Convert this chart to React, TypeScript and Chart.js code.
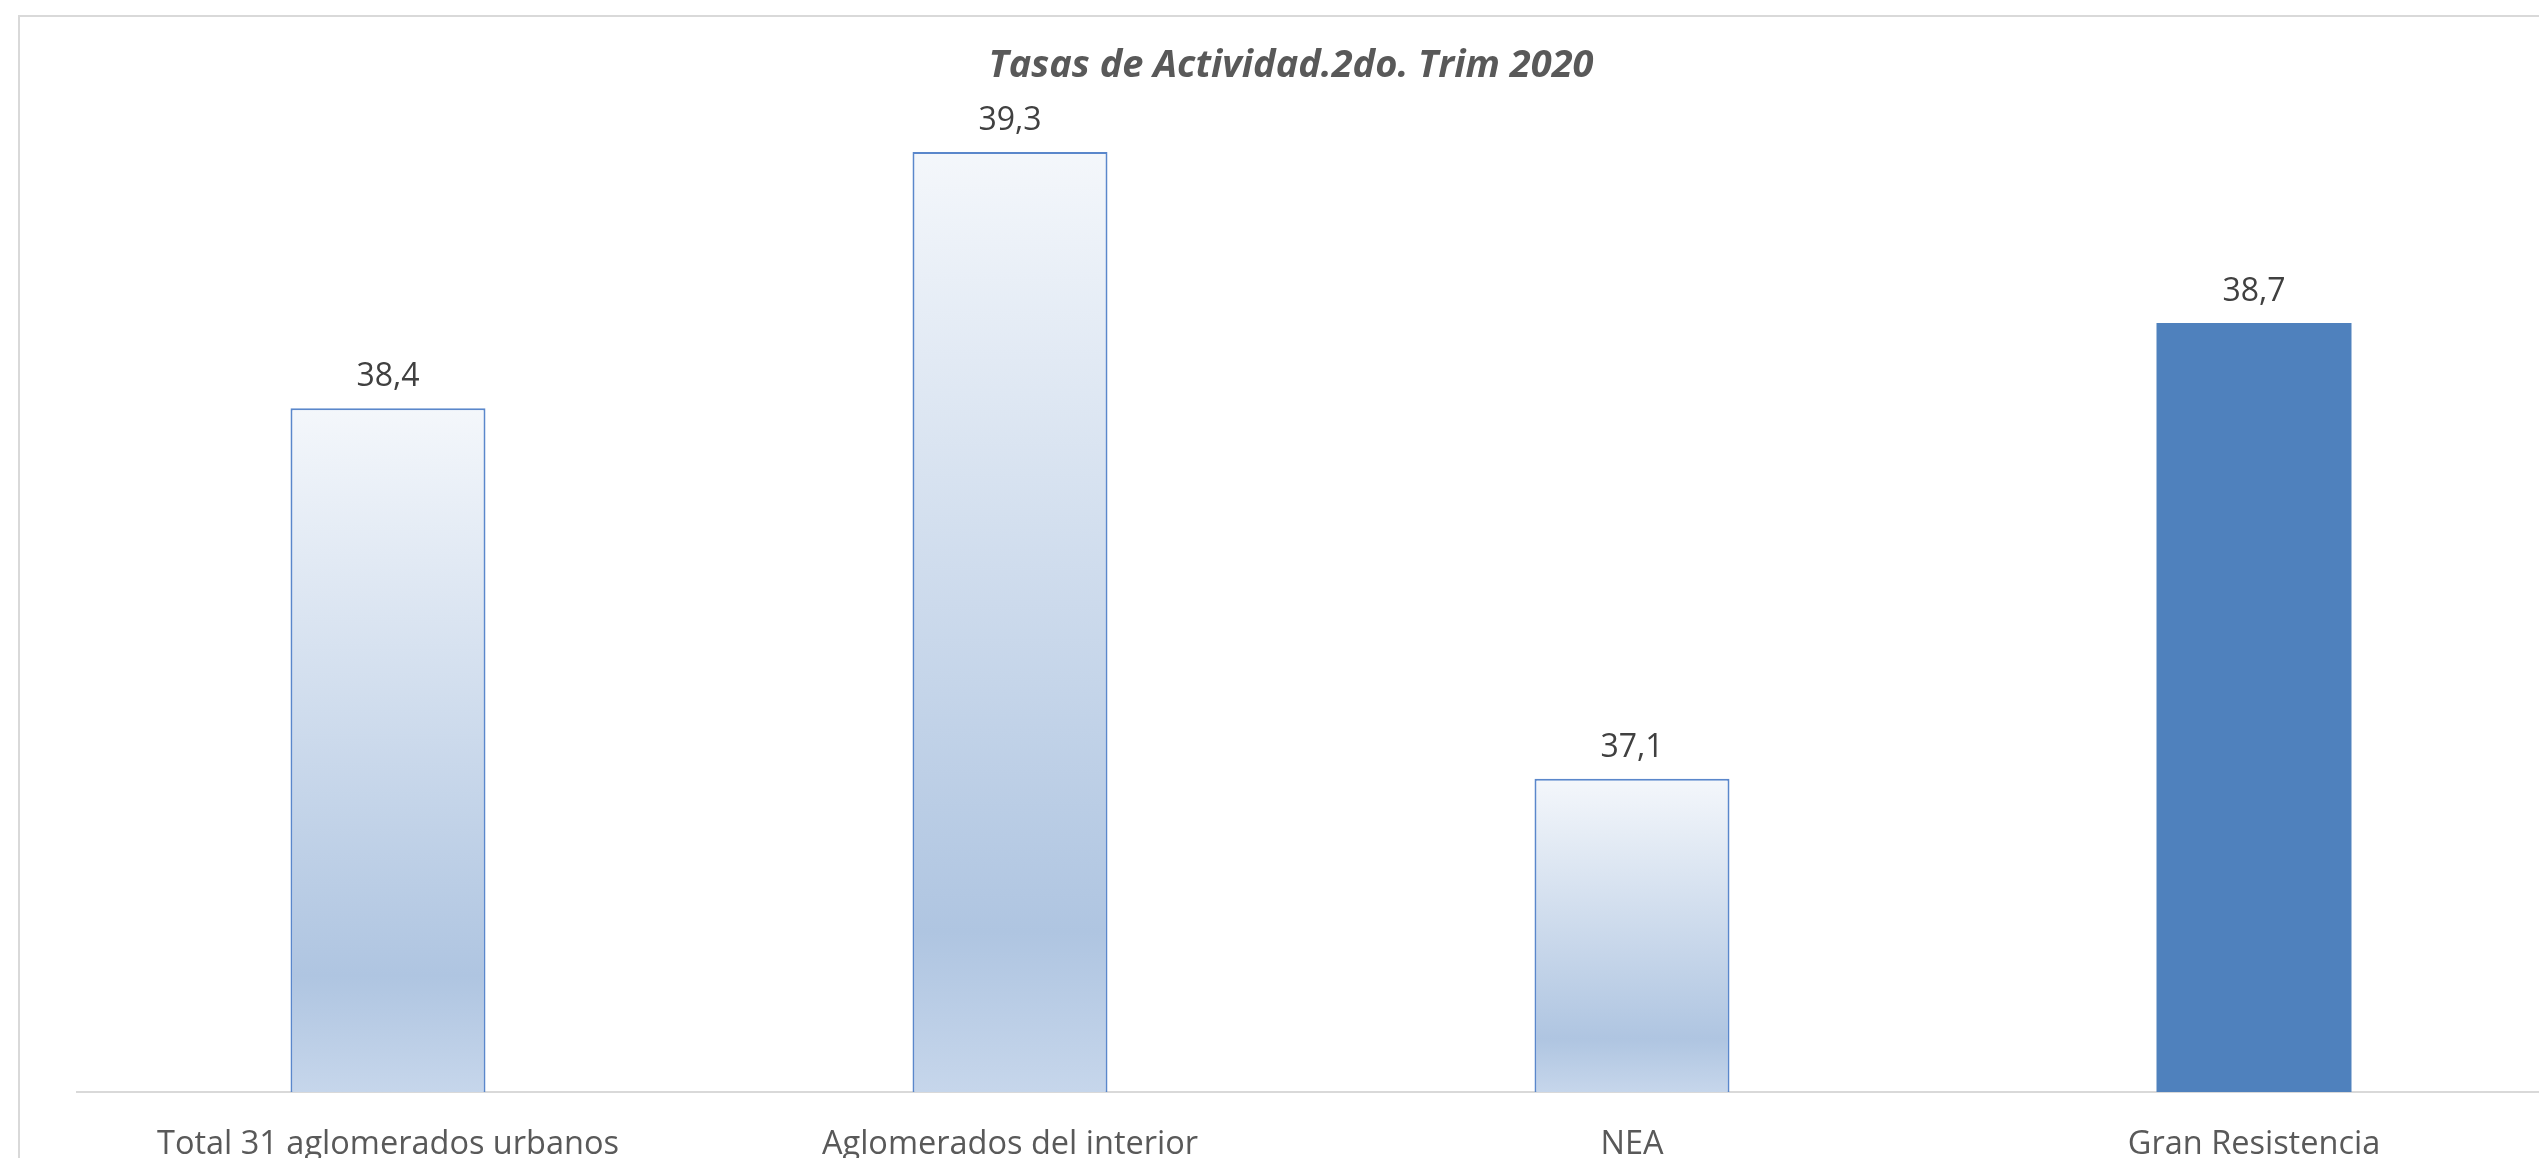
import React, { useEffect, useRef } from "react";
import { Chart, registerables } from "chart.js";

Chart.register(...registerables);

const categories: string[] = [
  "Total 31 aglomerados urbanos",
  "Aglomerados del interior",
  "NEA",
  "Gran Resistencia",
];
const values: number[] = [38.4, 39.3, 37.1, 38.7];
const valueLabels: string[] = ["38,4", "39,3", "37,1", "38,7"];
const titleText = "Tasas de Actividad.2do. Trim 2020";
const Y_MIN = 36;
const Y_MAX = 39.5;

const valueLabelPlugin = {
  id: "valueLabels",
  afterDatasetsDraw(chart: any) {
    const ctx = chart.ctx;
    const meta = chart.getDatasetMeta(0);
    ctx.save();
    ctx.font = '32px "Open Sans"';
    ctx.fillStyle = "#404040";
    ctx.textAlign = "center";
    ctx.textBaseline = "alphabetic";
    meta.data.forEach((bar: any, i: number) => {
      ctx.fillText(valueLabels[i], bar.x, bar.y - 22);
    });
    ctx.restore();
  },
};

const chartTitlePlugin = {
  id: "chartTitle",
  afterDraw(chart: any) {
    const ctx = chart.ctx;
    ctx.save();
    ctx.font = 'italic bold 38px "Open Sans"';
    ctx.fillStyle = "#595959";
    ctx.textAlign = "center";
    ctx.textBaseline = "middle";
    ctx.fillText(titleText, chart.width / 2 - 3, 49);
    ctx.restore();
  },
};

export default function App() {
  const canvasRef = useRef<HTMLCanvasElement | null>(null);

  useEffect(() => {
    const canvas = canvasRef.current;
    if (!canvas) return;
    const chart = new Chart(canvas, {
      type: "bar",
      data: {
        labels: categories,
        datasets: [
          {
            data: values,
            backgroundColor: (c: any) => {
              const i = c.dataIndex;
              if (i === 3) return "#4F81BD";
              const ch = c.chart;
              if (!ch.chartArea) return "#C6D6EB";
              const y = ch.scales.y;
              const top = y.getPixelForValue(values[i]);
              const bottom = y.getPixelForValue(Y_MIN);
              const g = ch.ctx.createLinearGradient(0, top, 0, bottom);
              g.addColorStop(0, "#F4F7FB");
              g.addColorStop(0.83, "#AFC5E1");
              g.addColorStop(1, "#C6D6EB");
              return g;
            },
            borderColor: (c: any) => (c.dataIndex === 3 ? "#4F81BD" : "#5A87CB"),
            borderWidth: (c: any) => (c.dataIndex === 3 ? 0 : 2),
            borderSkipped: "start",
            categoryPercentage: 0.3135,
            barPercentage: 1,
          },
        ],
      },
      options: {
        animation: false,
        responsive: false,
        maintainAspectRatio: false,
        layout: { padding: { left: 57, right: 3, top: 78, bottom: 0 } },
        plugins: {
          legend: { display: false },
          tooltip: { enabled: false },
          title: { display: false },
        },
        scales: {
          x: {
            grid: { display: false },
            border: { display: true, color: "#D9D9D9", width: 2 },
            ticks: {
              color: "#595959",
              font: { family: "Open Sans", size: 32.5 },
              padding: 25,
              maxRotation: 0,
              autoSkip: false,
            },
            afterFit: (scale: any) => {
              scale.height = 108;
            },
          },
          y: {
            display: false,
            min: Y_MIN,
            max: Y_MAX,
          },
        },
      },
      plugins: [valueLabelPlugin, chartTitlePlugin],
    });
    return () => chart.destroy();
  }, []);

  return (
    <div
      style={{
        position: "absolute",
        left: 0,
        top: 0,
        width: 2539,
        height: 1158,
        overflow: "hidden",
        background: "#ffffff",
      }}
    >
      <div
        style={{
          position: "absolute",
          left: 18,
          top: 15,
          borderLeft: "2px solid #D9D9D9",
          borderTop: "2px solid #D9D9D9",
          width: 2600,
          height: 1250,
        }}
      >
        <canvas
          ref={canvasRef}
          width={2548}
          height={1183}
          style={{ display: "block", width: 2548, height: 1183 }}
        />
      </div>
    </div>
  );
}
